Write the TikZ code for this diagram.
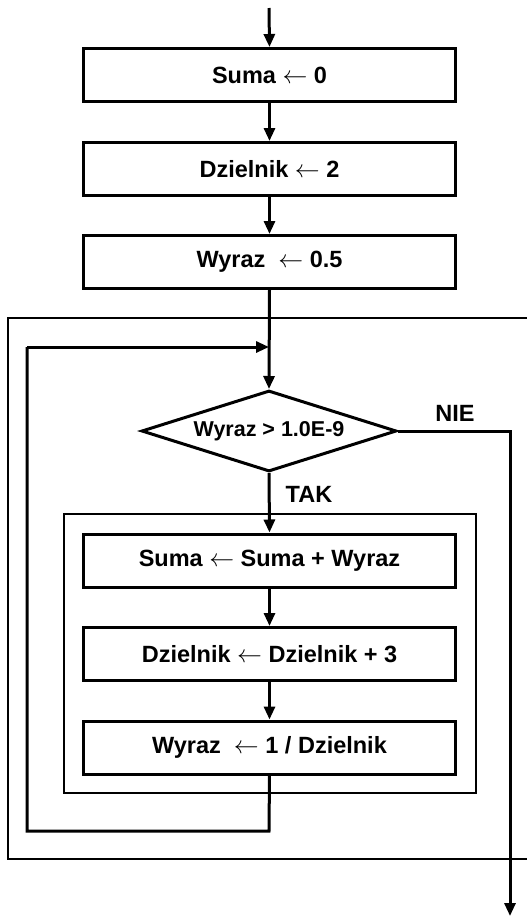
\documentclass[tikz,border=0pt]{standalone}
\usepackage{fontspec}
\setmainfont{Liberation Sans}
\usetikzlibrary{arrows.meta,shapes.geometric}
\begin{document}
\begin{tikzpicture}[x=1pt,y=-1pt,
  every node/.style={font=\bfseries\fontsize{23.5}{28}\selectfont},
  procbox/.style={draw,line width=3pt,rectangle,minimum width=372pt,minimum height=53pt,inner sep=0pt},
  decbox/.style={draw,line width=3pt,diamond,minimum width=255pt,minimum height=81pt,inner sep=0pt,aspect=3.1,font=\bfseries\fontsize{21.5}{26}\selectfont},
  flow/.style={line width=3pt,-{Triangle[length=13pt,width=11pt]}},
  plain/.style={line width=3pt},
  frame/.style={line width=1.4pt}]
\useasboundingbox (0,0) rectangle (527,922);
% frames
\draw[frame] (530,318) -- (8,318) -- (8,859) -- (530,859);
\draw[frame] (64,514) rectangle (476,793);
% nodes
\coordinate (start) at (269,8);
\node[procbox] (b1) at (269.5,75) {Suma $\leftarrow$ 0};
\node[procbox] (b2) at (269.5,169) {Dzielnik $\leftarrow$ 2};
\node[procbox] (b3) at (269.5,262) {Wyraz\ \ $\leftarrow$ 0.5};
\node[decbox] (d) at (269,431) {Wyraz > 1.0E-9};
\node[procbox] (i1) at (269.5,560.5) {Suma $\leftarrow$ Suma + Wyraz};
\node[procbox] (i2) at (269.5,654) {Dzielnik $\leftarrow$ Dzielnik + 3};
\node[procbox] (i3) at (269.5,747.5) {Wyraz\ \ $\leftarrow$ 1 / Dzielnik};
\node (nie) at (455,413) {NIE};
\node (tak) at (309,494) {TAK};
\coordinate (join) at (269,347);
\coordinate (lb) at (27,831);
\coordinate (lt) at (27,347);
\coordinate (cb) at (269,831);
\coordinate (nr) at (510,431);
\coordinate (endp) at (510,916);
% connectors
\draw[flow] (start) -- (b1.north);
\draw[flow] (b1.south) -- (b2.north);
\draw[flow] (b2.south) -- (b3.north);
\draw[flow] (b3.south) -- (d.north);
\draw[flow] (d.south) -- (i1.north);
\draw[flow] (i1.south) -- (i2.north);
\draw[flow] (i2.south) -- (i3.north);
\draw[plain] (i3.south) -- (cb) -- (lb) -- (lt);
\draw[flow] (lt) -- (join);
\draw[flow] (d.east) -- (nr) -- (endp);
\end{tikzpicture}
\end{document}
